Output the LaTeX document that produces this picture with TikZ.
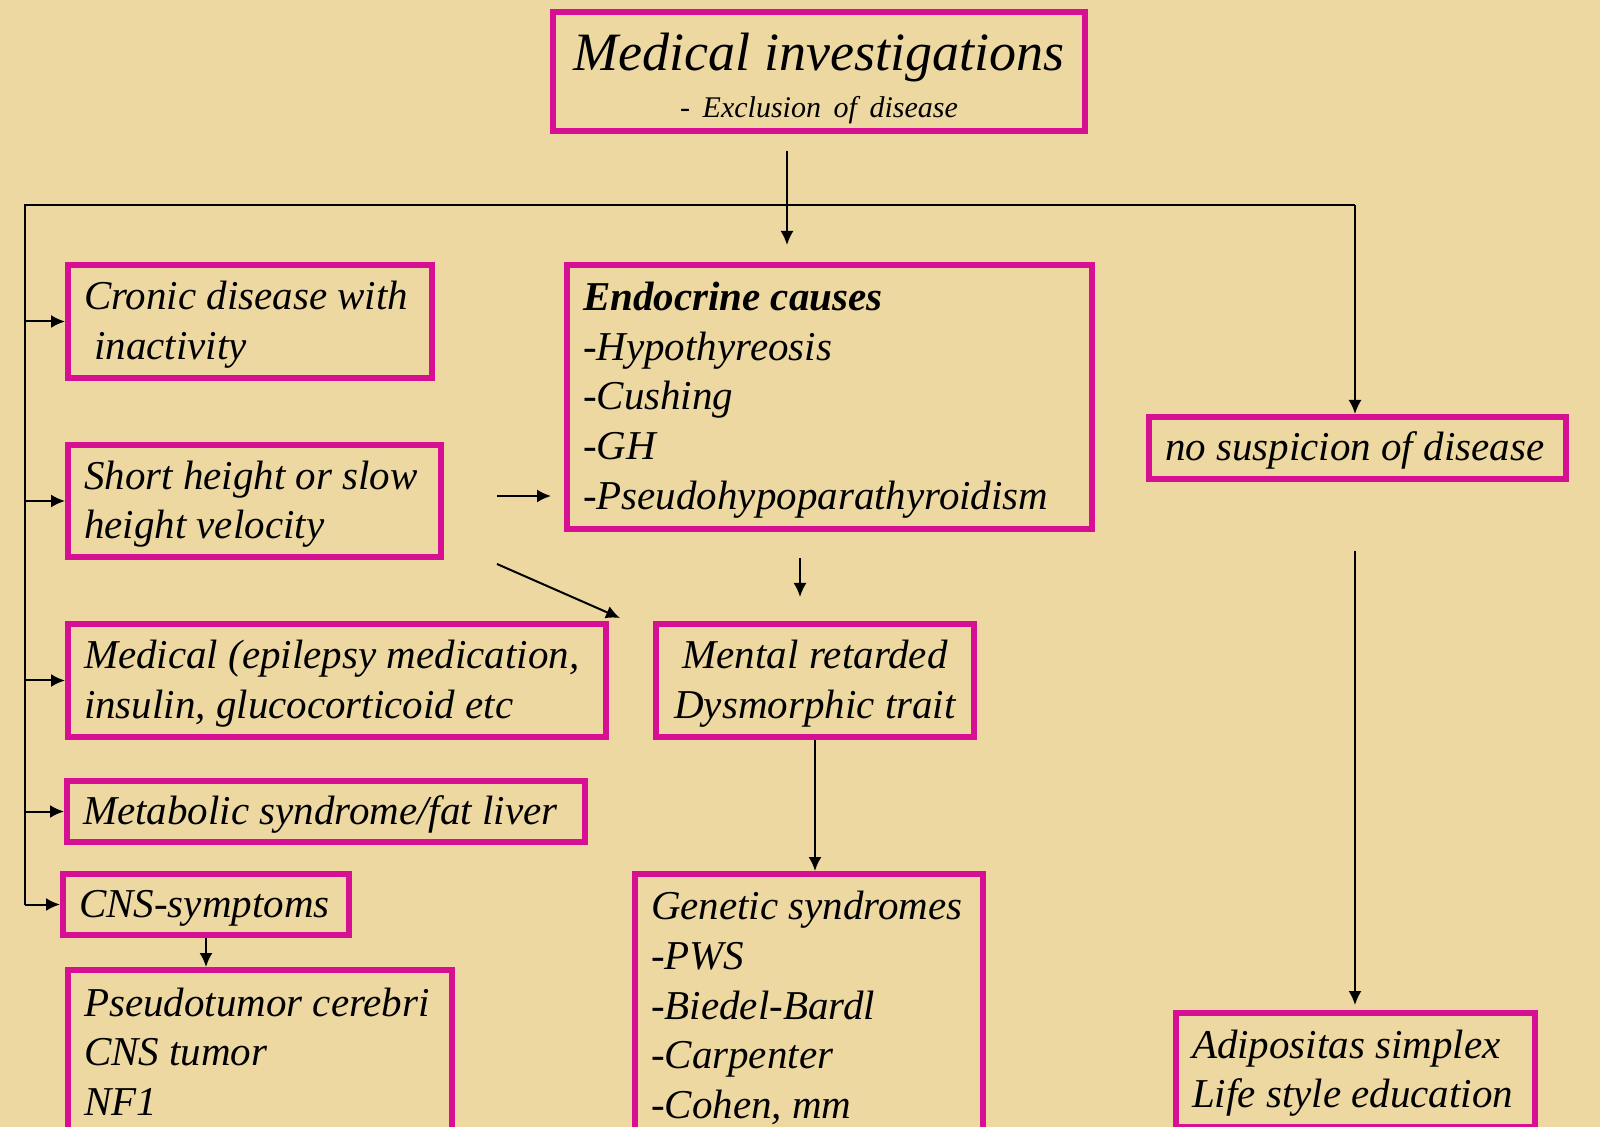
\documentclass[tikz,border=0pt]{standalone}
\usepackage{fontspec}
\setmainfont{Liberation Serif}
\usetikzlibrary{arrows.meta}
\definecolor{paper}{RGB}{237,216,161}
\definecolor{frame}{RGB}{215,15,148}
\newcommand{\topfix}{\relax\spaceskip=0pt\xspaceskip=0pt\relax\rule{0pt}{17.3pt}}
\begin{document}
\begin{tikzpicture}[x=0.5pt,y=-0.5pt,>={Latex[length=7pt,width=6.5pt]},line width=1pt]
	\useasboundingbox (0,0) rectangle (1600,1127);
	\clip (0,0) rectangle (1600,1127);
	\fill[paper] (0,0) rectangle (1600,1127);
	\begin{scope}\tikzset{every node/.style={rectangle,draw=frame,line width=3pt,inner xsep=8pt,inner ysep=0pt,align=left,font=\itshape\fontsize{20.5}{24.8}\selectfont}}
	\node[align=center,text width=250pt,minimum height=59.5pt] (inv) at (819,72) {\topfix\rule{0pt}{25pt}{\fontsize{27}{27}\selectfont Medical investigations}\\[-1.5pt]{\fontsize{15}{16}\selectfont\spaceskip=0pt\xspaceskip=0pt\relax - Exclusion of disease}};
	\node[text width=166pt,minimum height=56.5pt] (cron) at (250,321.5) {\topfix Cronic disease with\\ \ inactivity};
	\node[text width=170.5pt,minimum height=56pt] (short) at (254.5,501) {\topfix\mbox{Short height or slow}\\height velocity};
	\node[text width=253pt,minimum height=56.5pt] (med) at (337,680.5) {\topfix\mbox{Medical (epilepsy medication,}\\insulin, glucocorticoid etc};
	\node[text width=243pt,minimum height=30.5pt] (meta) at (326,811.5) {\topfix\mbox{Metabolic syndrome/fat liver}};
	\node[text width=127pt,minimum height=30.5pt] (cns) at (206,904.5) {\topfix CNS-symptoms};
	\node[text width=176pt,minimum height=83pt] (pseudo) at (260,1053) {\topfix Pseudotumor cerebri\\CNS tumor\\NF1\rule[-4.4pt]{0pt}{0pt}};
	\node[text width=246.5pt,minimum height=132pt] (endo) at (829.5,397) {\topfix\textbf{Endocrine causes}\\-Hypothyreosis\\-Cushing\\-GH\\-Pseudohypoparathyroidism};
	\node[align=center,text width=143pt,minimum height=56.5pt] (ment) at (815,680.5) {\topfix Mental retarded\\Dysmorphic trait};
	\node[text width=158pt,minimum height=131pt] (gen) at (809,1005) {\topfix Genetic syndromes\\-PWS\\-Biedel-Bardl\\-Carpenter\\-Cohen, mm};
	\node[text width=192.5pt,minimum height=31pt] (nosusp) at (1357.5,448) {\topfix\mbox{no suspicion of disease}};
	\node[text width=163.5pt,minimum height=57pt] (adipo) at (1355.5,1070) {\topfix Adipositas simplex\\\mbox{Life style education}};
	\end{scope}
	\coordinate (inva) at (787,151);
	\coordinate (invb) at (787,245);
	\coordinate (tl) at (25,205);
	\coordinate (tr) at (1355,205);
	\coordinate (tb) at (25,905);
	\coordinate (sha) at (497,496);
	\coordinate (shb) at (551,496);
	\coordinate (dga) at (497,564);
	\coordinate (dgb) at (620,618);
	\coordinate (ema) at (800,558);
	\coordinate (emb) at (800,597);
	\coordinate (nsa) at (1355,551);
	\coordinate (nsb) at (1355,1005);
	\begin{scope}
		\draw (tb) -- (tl) -- (tr);
		\path [->] (inva) edge (invb);
		\path [->] (tr) edge (tr |- nosusp.north);
		\path [->] (tb |- cron.west) edge (cron.west);
		\path [->] (tb |- short.west) edge (short.west);
		\path [->] (tb |- med.west) edge (med.west);
		\path [->] (tb |- meta.west) edge (meta.west);
		\path [->] (tb |- cns.west) edge (cns.west);
		\path [->] (cns.south) edge (cns.south |- pseudo.north);
		\path [->] (sha) edge (shb);
		\path [->] (dga) edge (dgb);
		\path [->] (ema) edge (emb);
		\path [->] (ment.south) edge (ment.south |- gen.north);
		\path [->] (nsa) edge (nsb);
	\end{scope}
\end{tikzpicture}
\end{document}
